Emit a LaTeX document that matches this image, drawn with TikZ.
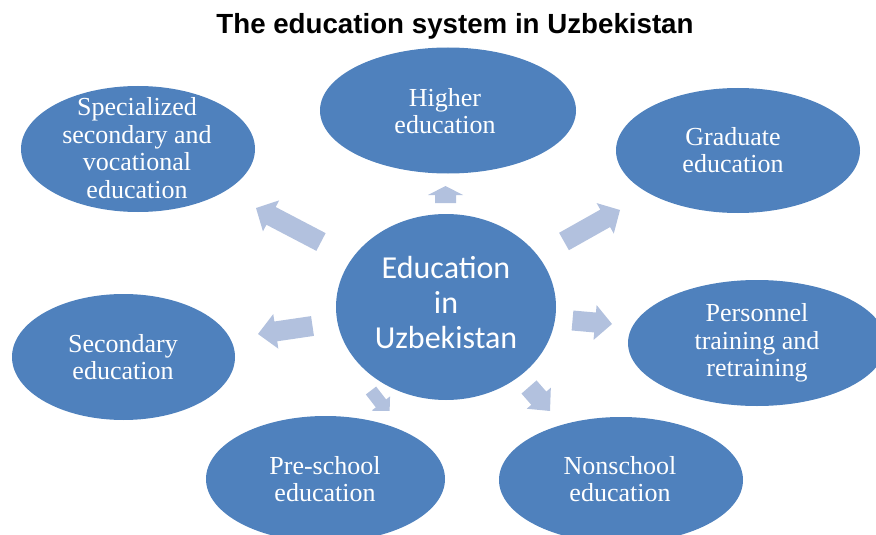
\documentclass[tikz,border=0pt]{standalone}
\usepackage{fontspec}
\setmainfont{Liberation Serif}
\newfontfamily\carlfont{Carlito}
\newfontfamily\titlefont{Liberation Sans}
\usetikzlibrary{shapes.geometric,calc}
\definecolor{blobc}{RGB}{79,129,189}
\definecolor{arrowc}{RGB}{178,193,222}
\newcommand{\blockarr}[6]{%
  \coordinate (#1h) at ($(#3)!#6!(#2)$);
  \fill[arrowc] ($(#2)!#4!90:(#3)$) -- ($(#1h)!#4!90:(#3)$) -- ($(#1h)!#5!90:(#3)$) -- (#3)
     -- ($(#1h)!#5!-90:(#3)$) -- ($(#1h)!#4!-90:(#3)$) -- ($(#2)!#4!-90:(#3)$) -- cycle;}
\tikzset{
  blob/.style={ellipse, fill=blobc, draw=none, inner sep=0pt},
  txt/.style={text=white, align=center, inner sep=0pt, font=\fontsize{26}{27.7}\selectfont},
  ctxt/.style={text=white, align=center, inner sep=0pt, font=\carlfont\fontsize{32}{35}\selectfont},
}
\begin{document}
\begin{tikzpicture}[x=1pt,y=-1pt]
\useasboundingbox (0,0) rectangle (876,535);
\clip (0,0) rectangle (876,535);
% title
\node[anchor=base, inner sep=0pt, font=\titlefont\bfseries\fontsize{27.7}{30}\selectfont] (title) at (455,34) {The education system in Uzbekistan};
% arrows (behind ellipses)
\coordinate (a1t) at (445.5,203); \coordinate (a1p) at (445.5,186);
\coordinate (a2t) at (321,242);   \coordinate (a2p) at (256,208);
\coordinate (a3t) at (564,241.5); \coordinate (a3p) at (620,210);
\coordinate (a4t) at (312.5,326); \coordinate (a4p) at (258,334);
\coordinate (a5t) at (572.5,320.5); \coordinate (a5p) at (612,324);
\coordinate (a6t) at (371,390.5); \coordinate (a6p) at (389.5,414.5);
\coordinate (a7t) at (529,387);   \coordinate (a7p) at (550,411);
\blockarr{a1}{a1t}{a1p}{10.5pt}{17.5pt}{9pt}
\blockarr{a2}{a2t}{a2p}{10pt}{17.5pt}{17pt}
\blockarr{a3}{a3t}{a3p}{10pt}{17.5pt}{17pt}
\blockarr{a4}{a4t}{a4p}{10pt}{17.5pt}{18pt}
\blockarr{a5}{a5t}{a5p}{10pt}{17.5pt}{17pt}
\begin{scope}
\clip (0,0) rectangle (876,410);
\blockarr{a6}{a6t}{a6p}{6.5pt}{11.5pt}{14pt}
\blockarr{a7}{a7t}{a7p}{10pt}{16pt}{17pt}
\end{scope}
% ellipses
\node[blob, minimum width=220pt, minimum height=186pt] (center) at (446,307) {};
\node[blob, minimum width=256pt, minimum height=126pt] (higher) at (448,110.5) {};
\node[blob, minimum width=234pt, minimum height=126pt] (spec) at (138,149) {};
\node[blob, minimum width=244pt, minimum height=125pt] (grad) at (738,150.5) {};
\node[blob, minimum width=223pt, minimum height=126pt] (second) at (123.5,357) {};
\node[blob, minimum width=258pt, minimum height=126pt] (pers) at (757,343) {};
\node[blob, minimum width=239pt, minimum height=126pt] (presch) at (325.5,479) {};
\node[blob, minimum width=244pt, minimum height=126pt] (nonsch) at (621,480) {};
% texts
\node[ctxt] (centert) at (446,303) {Education\\in\\Uzbekistan};
\node[txt] (highert) at (445,111) {Higher\\education};
\node[txt] (spect) at (137,148) {Specialized\\secondary and\\vocational\\education};
\node[txt] (gradt) at (733,150) {Graduate\\education};
\node[txt] (secondt) at (123,357) {Secondary\\education};
\node[txt] (perst) at (757,343) {Personnel\\training and\\retraining};
\node[txt] (prescht) at (325,479) {Pre-school\\education};
\node[txt] (nonscht) at (620,479) {Nonschool\\education};
\end{tikzpicture}
\end{document}
